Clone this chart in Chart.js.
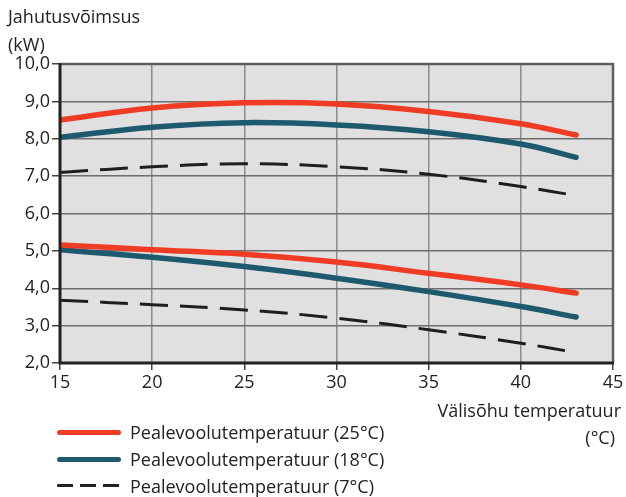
<!DOCTYPE html>
<html>
<head>
<meta charset="utf-8">
<script src="https://cdn.jsdelivr.net/npm/chart.js@4.4.1/dist/chart.umd.min.js"></script>
<style>
  html, body { margin: 0; padding: 0; background: #fff; }
  #wrap { position: relative; width: 626px; height: 497px; font-family: "Open Sans", sans-serif; color: #222; }
  #c { position: absolute; left: 0; top: 0; }
  .t { position: absolute; white-space: nowrap; font-size: 18px; line-height: 20px; }
  .leg { position: absolute; left: 57px; width: 64px; height: 5px; border-radius: 3px; }
  .legtxt { position: absolute; left: 130px; font-size: 18px; line-height: 20px; white-space: nowrap; }
</style>
</head>
<body>
<div id="wrap">
  <canvas id="c" width="626" height="497"></canvas>
  <div class="t" style="left:8px; top:6px;">Jahutusvõimsus</div>
  <div class="t" style="left:8px; top:34px;">(kW)</div>
  <div class="t" style="right:5px; top:400px;">Välisõhu temperatuur</div>
  <div class="t" style="right:11px; top:427px;">(°C)</div>

  <div class="leg" style="top:430px; background:#f03c24;"></div>
  <div class="legtxt" style="top:422px;">Pealevoolutemperatuur (25°C)</div>
  <div class="leg" style="top:457px; background:#1e5a6e;"></div>
  <div class="legtxt" style="top:449px;">Pealevoolutemperatuur (18°C)</div>
  <div class="leg" style="top:484px; height:3px; border-radius:1px; background:repeating-linear-gradient(90deg,#222 0 16px,transparent 16px 23px);"></div>
  <div class="legtxt" style="top:476px;">Pealevoolutemperatuur (7°C)</div>
</div>
<script>
// Outdoor air temperature (°C)
const temps = [15, 20, 25, 30, 35, 40, 43];

// Cooling capacity (kW), upper and lower curve for each supply temperature
const red25High  = [8.50, 8.82, 8.96, 8.93, 8.73, 8.40, 8.10];
const blue18High = [8.04, 8.31, 8.43, 8.37, 8.19, 7.86, 7.50];
const black7High = [7.10, 7.25, 7.33, 7.25, 7.05, 6.72, 6.48];
const red25Low   = [5.16, 5.03, 4.91, 4.70, 4.40, 4.09, 3.87];
const blue18Low  = [5.03, 4.83, 4.58, 4.27, 3.91, 3.51, 3.23];
const black7Low  = [3.68, 3.56, 3.42, 3.20, 2.89, 2.53, 2.28];

const xTicks = [15, 20, 25, 30, 35, 40, 45];
const yMin = 2, yMax = 10;

const RED = '#f03c24', BLUE = '#1e5a6e', BLACK = '#1e1e1e';

function pts(arr) { return temps.map((t, i) => ({ x: t, y: arr[i] })); }

function solid(values, color) {
  return { data: pts(values), borderColor: color, borderWidth: 5.5, borderCapStyle: 'round',
           borderJoinStyle: 'round', pointRadius: 0, tension: 0.4, fill: false };
}
function dashed(values) {
  return { data: pts(values), borderColor: BLACK, borderWidth: 3, borderDash: [28, 12],
           borderCapStyle: 'butt', pointRadius: 0, tension: 0.4, fill: false };
}

const plotFrame = {
  id: 'plotFrame',
  beforeDraw(chart) {
    const { ctx, chartArea: a } = chart;
    ctx.save();
    ctx.fillStyle = '#e0e0e0';
    ctx.fillRect(a.left, a.top, a.right - a.left, a.bottom - a.top);
    ctx.restore();
  },
  afterDatasetsDraw(chart) {
    const { ctx, chartArea: a } = chart;
    ctx.save();
    ctx.strokeStyle = '#5e5e5e';
    ctx.lineWidth = 2.5;
    ctx.beginPath();
    ctx.moveTo(a.left, a.top);
    ctx.lineTo(a.right, a.top);
    ctx.lineTo(a.right, a.bottom);
    ctx.stroke();
    ctx.strokeStyle = '#222';
    ctx.lineWidth = 3;
    ctx.beginPath();
    ctx.moveTo(a.left, a.top - 1);
    ctx.lineTo(a.left, a.bottom);
    ctx.lineTo(a.right + 1, a.bottom);
    ctx.stroke();
    ctx.restore();
  }
};

new Chart(document.getElementById('c'), {
  type: 'line',
  data: {
    datasets: [
      solid(red25High, RED), solid(blue18High, BLUE), dashed(black7High),
      solid(red25Low, RED), solid(blue18Low, BLUE), dashed(black7Low)
    ]
  },
  options: {
    responsive: false,
    animation: false,
    layout: { padding: { top: 64, right: 13, bottom: 94, left: 0 } },
    plugins: { legend: { display: false }, tooltip: { enabled: false } },
    scales: {
      x: {
        type: 'linear', min: 15, max: 45,
        afterBuildTicks(s) { s.ticks = xTicks.map(v => ({ value: v })); },
        afterFit(s) { s.height = 40; },
        grid: { color: '#8c8c8c', lineWidth: 1.5, tickLength: 7, tickColor: '#444', tickWidth: 1.5 },
        border: { display: false },
        ticks: { color: '#222', font: { family: 'Open Sans', size: 18 }, padding: 2, maxRotation: 0 }
      },
      y: {
        type: 'linear', min: yMin, max: yMax,
        afterFit(s) { s.width = 60; },
        grid: { color: '#6e6e6e', lineWidth: 1.5, tickLength: 8, tickColor: '#444', tickWidth: 1.5 },
        border: { display: false },
        ticks: { stepSize: 1, color: '#222', font: { family: 'Open Sans', size: 18 }, padding: 2,
                 callback: v => v.toFixed(1).replace('.', ',') }
      }
    }
  },
  plugins: [plotFrame]
});
</script>
</body>
</html>
